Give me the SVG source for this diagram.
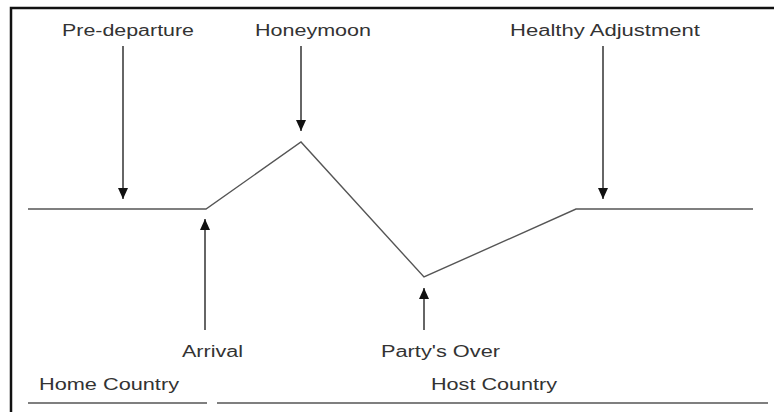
<svg xmlns="http://www.w3.org/2000/svg" width="774" height="412" viewBox="0 0 774 412">
  <style>
    .lbl { font-family: "Liberation Sans", Arial, sans-serif; font-size: 16px; fill: #333; }
    .curve { fill: none; stroke: #555; stroke-width: 1.4; stroke-linejoin: miter; }
    .arrow { fill: none; stroke: #333; stroke-width: 1.5; marker-end: url(#head); }
    .band { stroke: #555; stroke-width: 1.6; }
    .frame { fill: none; stroke: #111; stroke-width: 2.5; }
  </style>
  <defs>
    <marker id="head" viewBox="0 0 11 10" refX="11" refY="5" markerWidth="11" markerHeight="10" markerUnits="userSpaceOnUse" orient="auto">
      <path d="M0,0 L11,5 L0,10 Z" fill="#111"/>
    </marker>
  </defs>

  <rect width="774" height="412" fill="#fff"/>
  <!-- frame: top and left edges -->
  <path class="frame" d="M11,412 V8 H774"/>

  <!-- adjustment curve -->
  <g id="curve">
    <polyline class="curve" points="28,209 206,209 301,142 424,277 576,209 753,209"/>
  </g>

  <!-- phase labels -->
  <g id="pre-departure">
    <text class="lbl" x="62" y="36" textLength="132" lengthAdjust="spacingAndGlyphs">Pre-departure</text>
  </g>
  <g id="honeymoon">
    <text class="lbl" x="255" y="36" textLength="116" lengthAdjust="spacingAndGlyphs">Honeymoon</text>
  </g>
  <g id="healthy-adjustment">
    <text class="lbl" x="510" y="36" textLength="190" lengthAdjust="spacingAndGlyphs">Healthy Adjustment</text>
  </g>
  <g id="arrival">
    <text class="lbl" x="182" y="357" textLength="61" lengthAdjust="spacingAndGlyphs">Arrival</text>
  </g>
  <g id="partys-over">
    <text class="lbl" x="381" y="357" textLength="119" lengthAdjust="spacingAndGlyphs">Party's Over</text>
  </g>
  <g id="home-country">
    <text class="lbl" x="39" y="390" textLength="140" lengthAdjust="spacingAndGlyphs">Home Country</text>
    <line class="band" x1="28" y1="403" x2="207" y2="403"/>
  </g>
  <g id="host-country">
    <text class="lbl" x="431" y="390" textLength="126" lengthAdjust="spacingAndGlyphs">Host Country</text>
    <line class="band" x1="217" y1="403" x2="768" y2="403"/>
  </g>

  <!-- pointers from labels to the curve -->
  <g id="connectors">
    <line class="arrow" x1="123" y1="46" x2="123" y2="199"/>
    <line class="arrow" x1="301" y1="46" x2="301" y2="131"/>
    <line class="arrow" x1="603" y1="46" x2="603" y2="199"/>
    <line class="arrow" x1="205" y1="330" x2="205" y2="219"/>
    <line class="arrow" x1="424" y1="330" x2="424" y2="288"/>
  </g>
</svg>
